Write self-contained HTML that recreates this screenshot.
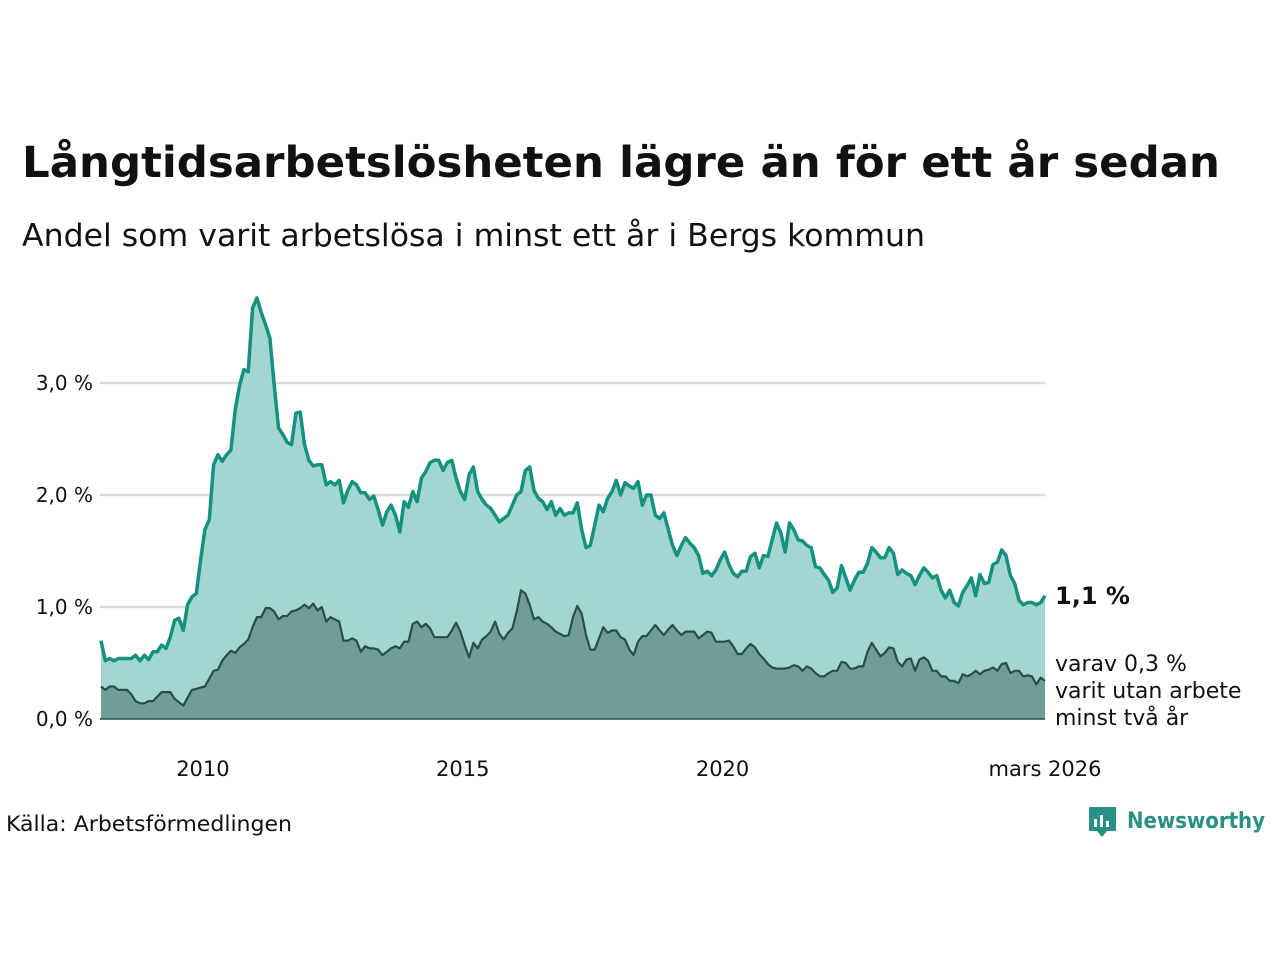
<!DOCTYPE html>
<html><head><meta charset="utf-8"><style>
body{margin:0;background:#fff;width:1280px;height:960px;overflow:hidden;font-family:"Liberation Sans",sans-serif}
svg text{font-family:"DejaVu Sans","Liberation Sans",sans-serif}
</style></head><body>
<svg id="c" width="1280" height="960">
<text x="22" y="177" font-size="43" font-weight="bold" fill="#111" textLength="1198" lengthAdjust="spacingAndGlyphs">Långtidsarbetslösheten lägre än för ett år sedan</text>
<text x="22" y="246" font-size="31" fill="#111" textLength="903" lengthAdjust="spacingAndGlyphs">Andel som varit arbetslösa i minst ett år i Bergs kommun</text>
<g id="grid"></g><g id="marks"></g><g id="axes"></g>
<text x="6" y="831" font-size="21" fill="#111" textLength="286" lengthAdjust="spacingAndGlyphs">Källa: Arbetsförmedlingen</text>
<g>
<path d="M1089,807 h27 v24 h-9 l-5,6 l-5,-6 h-8 z" fill="#2a8f85"/>
<rect x="1094" y="819" width="3" height="8" fill="#fff"/><rect x="1100" y="815" width="3" height="12" fill="#fff"/><rect x="1106" y="821" width="3" height="6" fill="#fff"/>
<text x="1127" y="828" font-size="22" font-weight="bold" fill="#2a8f85" textLength="138" lengthAdjust="spacingAndGlyphs">Newsworthy</text>
</g>
</svg>
<script>
const startYear=2008;
const longTerm=[0.70,0.52,0.54,0.52,0.54,0.54,0.54,0.54,0.57,0.52,0.57,0.53,
0.60,0.60,0.66,0.63,0.73,0.88,0.90,0.79,1.02,1.09,1.12,1.42,
1.69,1.78,2.27,2.36,2.30,2.36,2.40,2.76,2.98,3.12,
3.10,3.67,3.76,3.63,3.52,3.40,2.98,2.60,2.54,2.47,
2.45,2.73,2.74,2.45,2.31,2.26,2.27,2.27,2.09,2.12,
2.09,2.13,1.93,2.04,2.12,2.09,2.02,2.02,1.96,1.99,
1.87,1.73,1.85,1.91,1.82,1.67,1.94,1.89,2.03,1.94,
2.15,2.21,2.29,2.31,2.31,2.22,2.29,2.31,2.15,2.03,
1.96,2.18,2.25,2.03,1.96,1.91,1.88,1.82,1.76,1.79,
1.82,1.91,2.00,2.03,2.22,2.25,2.04,1.97,1.94,1.87,
1.94,1.82,1.88,1.82,1.84,1.84,1.93,1.69,1.53,
1.55,1.73,1.91,1.85,1.97,2.03,2.13,2.00,2.11,2.08,
2.06,2.12,1.91,2.00,2.00,1.82,1.79,1.84,1.69,1.55,
1.46,1.55,1.62,1.57,1.53,1.46,1.30,1.32,1.28,1.33,
1.42,1.49,1.38,1.30,1.27,1.32,1.32,1.45,1.48,1.35,
1.46,1.45,1.60,1.75,1.66,1.49,1.75,1.69,1.60,1.59,
1.55,1.53,1.36,1.35,1.29,1.24,1.13,1.17,1.37,1.26,
1.15,1.24,1.31,1.31,1.39,1.53,1.49,1.44,1.44,1.53,
1.48,1.29,1.33,1.30,1.28,1.20,1.28,1.35,1.31,1.26,
1.28,1.15,1.08,1.15,1.04,1.01,1.13,1.19,1.26,1.10,
1.29,1.21,1.22,1.38,1.40,1.51,1.46,1.28,1.21,1.06,
1.02,1.04,1.04,1.02,1.04,1.10];
const twoYear=[0.29,0.26,0.29,0.29,0.26,0.26,0.26,0.22,0.16,0.14,0.14,0.16,
0.16,0.20,0.24,0.24,0.24,0.18,0.15,0.12,0.19,0.26,0.27,0.28,
0.29,0.36,0.43,0.44,0.52,0.57,0.61,0.59,0.64,0.67,0.71,0.82,
0.91,0.91,0.99,0.99,0.96,0.89,0.92,0.92,0.96,0.97,0.99,1.02,
0.99,1.03,0.97,1.00,0.87,0.91,0.89,0.87,0.70,0.70,0.72,0.70,
0.60,0.65,0.63,0.63,0.62,0.57,0.60,0.63,0.65,0.63,0.69,0.69,
0.85,0.87,0.82,0.85,0.81,0.73,0.73,0.73,0.73,0.79,0.86,0.78,
0.66,0.55,0.68,0.63,0.71,0.74,0.78,0.87,0.76,0.71,0.77,0.81,
0.96,1.15,1.12,1.02,0.89,0.91,0.87,0.85,0.82,0.78,0.76,0.74,
0.75,0.91,1.01,0.94,0.75,0.62,0.62,0.72,0.82,0.77,0.79,0.79,
0.73,0.71,0.62,0.57,0.69,0.74,0.74,0.79,0.84,0.79,0.75,0.80,
0.84,0.79,0.75,0.78,0.78,0.78,0.72,0.75,0.78,0.77,0.69,0.69,
0.69,0.70,0.65,0.58,0.58,0.63,0.67,0.64,0.58,0.54,0.49,0.46,
0.45,0.45,0.45,0.46,0.48,0.47,0.43,0.47,0.45,0.41,0.38,0.38,
0.41,0.43,0.43,0.51,0.50,0.45,0.45,0.47,0.47,0.60,0.68,0.62,
0.56,0.59,0.64,0.63,0.51,0.47,0.53,0.54,0.43,0.53,0.55,0.52,
0.43,0.43,0.38,0.38,0.34,0.34,0.32,0.40,0.38,0.40,0.43,0.40,
0.43,0.44,0.46,0.43,0.49,0.50,0.41,0.43,0.43,0.38,0.39,0.38,
0.31,0.37,0.34];
const yTicks=[0,1,2,3];
const yTickLabels=["0,0 %","1,0 %","2,0 %","3,0 %"];
const xTickYears=[2010,2015,2020];
const endLabel="mars 2026";

const NS="http://www.w3.org/2000/svg";
const x0=101,x1=1045,y0=719,pxPerPct=112;
const n=Math.max(longTerm.length,twoYear.length);
const x=i=>x0+i*(x1-x0)/(n-1);
const xYear=yr=>x0+(yr-startYear)*12*(x1-x0)/(n-1);
const y=v=>y0-v*pxPerPct;
function mk(tag,attrs,parent){const e=document.createElementNS(NS,tag);for(const k in attrs)e.setAttribute(k,attrs[k]);parent.appendChild(e);return e;}
const grid=document.getElementById('grid'),marks=document.getElementById('marks'),axes=document.getElementById('axes');
yTicks.forEach((t,i)=>{
 if(t>0){const g=mk('line',{x1:100,x2:1045,y1:y(t),y2:y(t),stroke:'#dcdcdc','stroke-width':2.5},grid);
 
 }
 const tx=mk('text',{x:93,y:y(t)+7,'text-anchor':'end','font-size':20,fill:'#111'},axes);
 tx.textContent=yTickLabels[i];
 
 
});
xTickYears.forEach(yr=>{
 const tx=mk('text',{x:xYear(yr)-2,y:776,'text-anchor':'middle','font-size':21,fill:'#111'},axes);
 tx.textContent=String(yr);
 
 
});
const el=mk('text',{x:x(n-1),y:776,'text-anchor':'middle','font-size':21,fill:'#111'},axes);
el.textContent=endLabel;


function pts(arr){return arr.map((v,i)=>x(i).toFixed(1)+','+y(v).toFixed(1)).join(' ');}
function area(arr,fill,stroke,sw,name){
 const a=mk('polygon',{points:x(0)+','+y0+' '+pts(arr)+' '+x(arr.length-1)+','+y0,fill:fill},marks);
 
 
 const l=mk('polyline',{points:pts(arr),fill:'none',stroke:stroke,'stroke-width':sw,'stroke-linejoin':'round'},marks);
 
 
}
area(longTerm,'#a4d6d1','#14917f',3.5,'long-term-unemployed');
area(twoYear,'#719d97','#2b4c48',2.2,'two-year-unemployed');
const base=mk('line',{x1:100,x2:1045,y1:y0,y2:y0,stroke:'#2b4c48','stroke-width':1.5},axes);


const fmt=v=>v.toFixed(1).replace('.',',')+' %';
const l1=mk('text',{x:1055,y:y(longTerm[longTerm.length-1])+8,'font-size':24,'font-weight':'bold',fill:'#111'},axes);
l1.textContent=fmt(longTerm[longTerm.length-1]);


const lines=['varav '+fmt(twoYear[twoYear.length-1]),'varit utan arbete','minst två år'];
lines.forEach((s,i)=>{const t=mk('text',{x:1055,y:671+i*27,'font-size':22,fill:'#111'},axes);t.textContent=s;
 
 });
</script>
</body></html>
